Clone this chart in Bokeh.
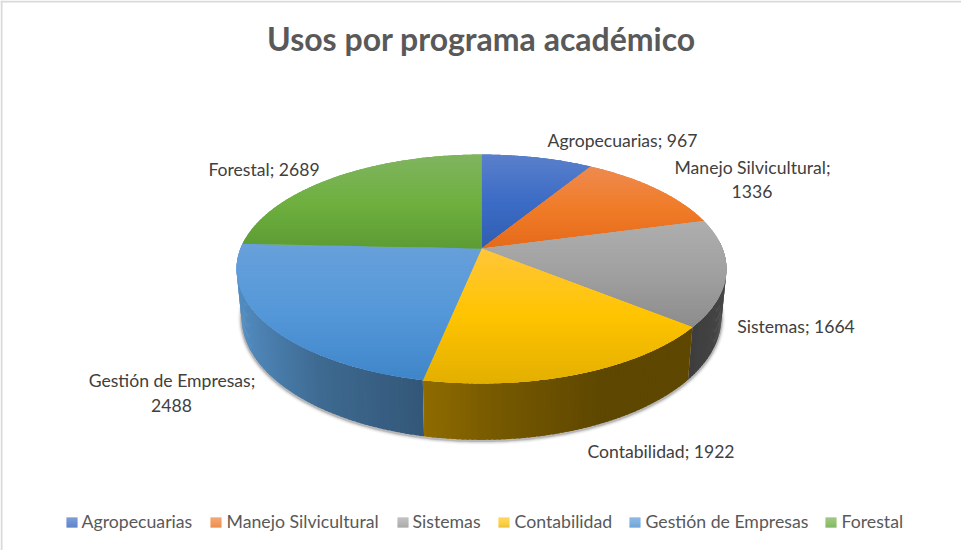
import math
from bokeh.plotting import figure
from bokeh.models import Range1d
from bokeh.core.properties import value
from bokeh.embed import file_html
from bokeh.resources import INLINE

title_text = "Usos por programa académico"
categories = ["Agropecuarias", "Manejo Silvicultural", "Sistemas", "Contabilidad", "Gestión de Empresas", "Forestal"]
values = [967, 1336, 1664, 1922, 2488, 2689]
side_colors = ["#4472c4", "#ed7d31", "#a5a5a5", "#ffc000", "#5b9bd5", "#70ad47"]
light_colors = ["#5a80cb", "#ee8a50", "#aeaeae", "#ffc63a", "#68a0da", "#80b45f"]
mid_colors = ["#3c6cc6", "#f07c28", "#a0a0a0", "#ffc400", "#5598d9", "#6fb040"]
dark_colors = ["#2f5eb0", "#e56a1a", "#8c8c8c", "#e3af00", "#3f86c9", "#5c9c33"]

FONT = "Lato"
W, H = 961, 550

# perspective disc parameters, in page pixels
CX, TOP_Y, TOP_A, TOP_B, KP = 481.0, 248.0, 241.0, 110.8, 0.179
BOT_CX, BOT_Y, BOT_A, BOT_B = 481.0, 295.0, 236.0, 118.5


def rgb(h):
    return tuple(int(h[i:i + 2], 16) for i in (1, 3, 5))


def to_hex(c):
    return "#%02x%02x%02x" % tuple(max(0, min(255, int(round(v)))) for v in c)


def mix(a, b, t):
    return tuple(x + (y - x) * t for x, y in zip(a, b))


def top_pt(deg):
    t = math.radians(deg)
    u, v = math.sin(t), math.cos(t)
    d = 1 + KP * v
    return CX + TOP_A * u / d, TOP_Y - TOP_B * v / d


def bot_pt(deg):
    t = math.radians(deg)
    u, v = math.sin(t), math.cos(t)
    d = 1 + KP * v
    return BOT_CX + BOT_A * u / d, BOT_Y - BOT_B * v / d


def clip(poly, y0, y1):
    def cut(pts, keep, cross):
        out = []
        for i, p in enumerate(pts):
            q = pts[(i + 1) % len(pts)]
            kp, kq = keep(p), keep(q)
            if kp:
                out.append(p)
            if kp != kq:
                t = (cross - p[1]) / (q[1] - p[1])
                out.append((p[0] + (q[0] - p[0]) * t, cross))
        return out
    res = cut(poly, lambda p: p[1] >= y0, y0)
    if res:
        res = cut(res, lambda p: p[1] <= y1, y1)
    return res


def grad(i, t):
    if t < 0.5:
        return mix(rgb(light_colors[i]), rgb(mid_colors[i]), t / 0.5)
    return mix(rgb(mid_colors[i]), rgb(dark_colors[i]), (t - 0.5) / 0.5)


def shade(x):
    xs = [238, 280, 320, 423, 500, 600, 690, 724]
    ss = [0.90, 0.78, 0.68, 0.56, 0.46, 0.37, 0.37, 0.42]
    if x <= xs[0]:
        return ss[0]
    for k in range(len(xs) - 1):
        if x <= xs[k + 1]:
            return ss[k] + (ss[k + 1] - ss[k]) * (x - xs[k]) / (xs[k + 1] - xs[k])
    return ss[-1]


p = figure(width=W, height=H, output_backend="svg", toolbar_location=None,
           x_range=Range1d(0, W), y_range=Range1d(H, 0),
           min_border=0, outline_line_color=None)
p.axis.visible = False
p.grid.visible = False
p.background_fill_color = "#ffffff"
p.border_fill_color = "#ffffff"

# frame of the chart area: top and left edges
p.line([1, 1], [0, H], line_color="#d9d9d9", line_width=2)
p.line([0, W], [1, 1], line_color="#d9d9d9", line_width=2)

total = sum(values)
bounds = [0.0]
for val in values:
    bounds.append(bounds[-1] + val / total * 360.0)

# soft shadow under the rim
rim = [bot_pt(a) for a in [88 + s * 1.0 for s in range(185)]]
for lw, al in [(8, 0.04), (6, 0.07), (4, 0.12), (2.5, 0.2)]:
    p.line([q[0] for q in rim], [q[1] + 1.0 for q in rim], line_color="#404040", line_width=lw, line_alpha=al)

# side wall: overlapping facets, painted from the outer edges toward the front
side = []
for i in range(len(values)):
    a = bounds[i]
    while a < bounds[i + 1]:
        b = min(a + 1.0, bounds[i + 1])
        if 85 <= a <= 275:
            side.append((math.cos(math.radians((a + b) / 2)), i, a, b))
        a = b
side.sort(reverse=True)
xs, ys, cs = [], [], []
for _, i, a, b in side:
    mid = (a + b) / 2
    lo, hi = a, b
    if mid < 180:
        hi = min(b + 0.6, bounds[i + 1])
    else:
        lo = max(a - 0.6, bounds[i])
    p1, p2, p3, p4 = top_pt(lo), top_pt(hi), bot_pt(hi), bot_pt(lo)
    xs.append([p1[0], p2[0], p3[0], p4[0]])
    ys.append([p1[1], p2[1], p3[1], p4[1]])
    s = shade(top_pt(mid)[0])
    cs.append(to_hex(tuple(c * s for c in rgb(side_colors[i]))))
p.patches(xs, ys, fill_color=cs, line_color=None)

# top face: a slice per value, painted in narrow overlapping bands for the gradient
for i in range(len(values)):
    n = max(2, int(bounds[i + 1] - bounds[i]) * 2)
    poly = [(CX, TOP_Y)] + [top_pt(bounds[i] + (bounds[i + 1] - bounds[i]) * k / n) for k in range(n + 1)]
    y_min, y_max = min(q[1] for q in poly), max(q[1] for q in poly)
    p.patch([q[0] for q in poly], [q[1] for q in poly], fill_color=mid_colors[i], line_color=None)
    bx, by, bc = [], [], []
    y = y_min
    while y < y_max:
        y2 = min(y + 1.5, y_max)
        part = clip(poly, y, min(y2 + 0.8, y_max))
        if len(part) >= 3:
            bx.append([q[0] for q in part])
            by.append([q[1] for q in part])
            bc.append(to_hex(grad(i, ((y + y2) / 2 - y_min) / (y_max - y_min))))
        y = y2
    p.patches(bx, by, fill_color=bc, line_color=None)

# title
p.text([481], [37.5], text=[title_text], text_font=value(FONT), text_font_size="32px", text_font_style="bold",
       text_color="#595959", text_align="center", text_baseline="middle")

# data labels
label_rows = [
    (622, 139.5, f"{categories[0]}; {values[0]}"),
    (752, 166.5, f"{categories[1]};"),
    (751.5, 190.5, f"{values[1]}"),
    (795.5, 325.5, f"{categories[2]}; {values[2]}"),
    (660.5, 450.5, f"{categories[3]}; {values[3]}"),
    (171.5, 379.5, f"{categories[4]};"),
    (171, 404.5, f"{values[4]}"),
    (263.5, 168.5, f"{categories[5]}; {values[5]}"),
]
p.text([r[0] for r in label_rows], [r[1] for r in label_rows], text=[r[2] for r in label_rows],
       text_font=value(FONT), text_font_size="17.6px", text_color="#404040",
       text_align="center", text_baseline="middle")

# legend
swatch_left = [66, 210, 397, 498, 629, 825]
text_left = [81, 226, 412, 514, 645, 841]
for i, cat in enumerate(categories):
    x0 = swatch_left[i]
    for k in range(10):
        p.quad(left=[x0], right=[x0 + 11], top=[517 + k], bottom=[518 + k], fill_color=to_hex(grad(i, (k + 0.5) / 10)), line_color=None)
p.text(text_left, [520.5] * 6, text=categories, text_font=value(FONT), text_font_size="17.7px", text_color="#595959",
       text_align="left", text_baseline="middle")

open("out.html", "w").write(file_html(p, INLINE))
